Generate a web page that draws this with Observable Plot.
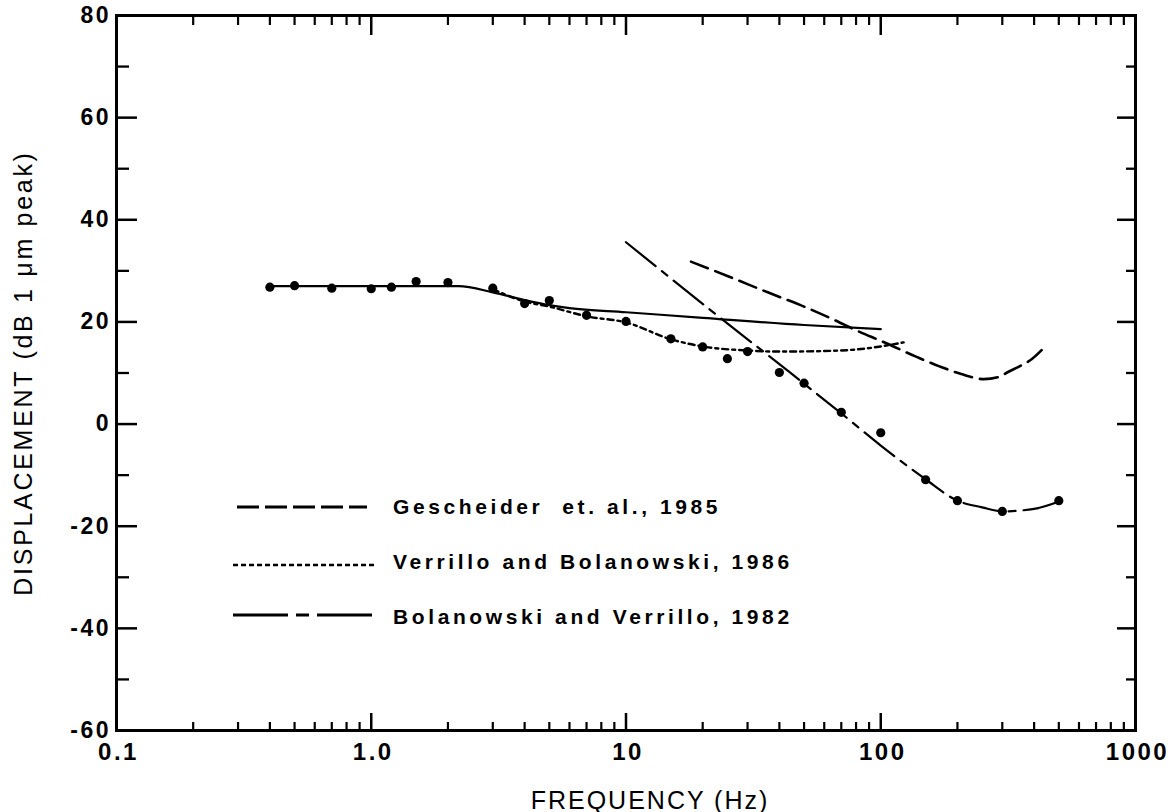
<!DOCTYPE html>
<html>
<head>
<meta charset="utf-8">
<script src="https://cdn.jsdelivr.net/npm/d3@7"></script>
<script src="https://cdn.jsdelivr.net/npm/@observablehq/plot@0.6"></script>
<style>
  html, body { margin: 0; padding: 0; background: #fff; }
  #chart { position: relative; width: 1175px; height: 812px; }
  #chart svg { position: absolute; left: 0; top: 0; }
  .legend text { letter-spacing: 3.6px; white-space: pre; }
</style>
</head>
<body>
<div id="chart"></div>
<script>
// ---- axis ticks ----
const xMajorTicks = [0.1, 1, 10, 100, 1000];
const xTickLabels = ["0.1", "1.0", "10", "100", "1000"];
const yMajorTicks = [-60, -40, -20, 0, 20, 40, 60, 80];
const yTickLabels = ["-60", "-40", "-20", "0", "20", "40", "60", "80"];
const yMinorTicks = [-50, -30, -10, 10, 30, 50, 70];
const yTitle = "DISPLACEMENT (dB 1 μm peak)";
const xTitle = "FREQUENCY (Hz)";

// ---- measured data points (filled circles) ----
const dotFreq = [0.4, 0.5, 0.7, 1.0, 1.2, 1.5, 2.0, 3.0, 4.0, 5.0, 7.0, 10, 15, 20, 25, 30, 40, 50, 70, 100, 150, 200, 300, 500];
const dotDb   = [26.8, 27.1, 26.6, 26.5, 26.8, 27.9, 27.7, 26.6, 23.6, 24.2, 21.3, 20.1, 16.7, 15.1, 12.8, 14.2, 10.1, 8.0, 2.3, -1.7, -10.9, -15.0, -17.1, -15.0];

// ---- Gescheider et al., 1985 (dashed) ----
const gesFreq = [18, 25, 36, 50, 65, 83, 100, 139, 170, 207, 254, 290, 316, 360, 391, 446];
const gesDb   = [31.8, 29.0, 25.8, 23.0, 20.5, 18.0, 16.3, 13.1, 11.3, 9.8, 8.8, 9.2, 10.2, 11.6, 12.7, 15.4];

// ---- Verrillo and Bolanowski, 1986 (dotted) ----
const verFreq = [3.0, 4.0, 5.0, 7.0, 10, 15, 20, 30, 40, 60, 80, 100, 123];
const verDb   = [26.4, 24.0, 23.0, 21.1, 19.9, 16.6, 15.2, 14.4, 14.2, 14.3, 14.6, 15.2, 16.0];

// ---- Bolanowski and Verrillo, 1982: low-frequency channel (solid) ----
const bvLowFreq = [0.4, 1.0, 2.2, 3.0, 4.0, 5.0, 6.0, 10, 20, 50, 100];
const bvLowDb   = [27.0, 27.0, 27.0, 25.8, 24.3, 23.3, 22.7, 21.9, 20.8, 19.4, 18.6];

// ---- Bolanowski and Verrillo, 1982: high-frequency channel (long-short dash) ----
const bvHighFreq = [10, 24, 43.5, 50, 70, 100, 150, 200, 250, 300, 400, 530];
const bvHighDb   = [35.6, 20.4, 10.3, 7.9, 2.1, -4.2, -10.8, -15.0, -16.3, -17.1, -16.6, -14.7];

// ---- legend ----
const legendLabels = ["Gescheider\u00A0 et. al., 1985", "Verrillo and Bolanowski, 1986", "Bolanowski and Verrillo, 1982"];
const legendDashes = ["22,6", "5,3", "55,8,13,8"];

const toRows = (fs, vs) => fs.map((f, i) => ({f, db: vs[i]}));

const W = 1175, H = 812;
const mT = 15, mB = 82, mL = 116, mR = 40;
const plotH = H - mT - mB, plotW = W - mL - mR;

const xMinorTicks = xMajorTicks.slice(0, -1).flatMap(d => d3.range(2, 10).map(k => k * d));
const innerMajorX = xMajorTicks.slice(1, -1);
const innerMajorY = yMajorTicks.slice(1, -1);

const font = "'Liberation Sans', Arial, Helvetica, sans-serif";

const chart = Plot.plot({
  width: W, height: H,
  marginTop: mT, marginBottom: mB, marginLeft: mL, marginRight: mR,
  style: {fontFamily: font, background: "#fff", color: "#000"},
  x: {type: "log", domain: [0.1, 1000], axis: null},
  y: {domain: [-60, 80], axis: null},
  marks: [
    // ticks (inward)
    Plot.ruleX(xMinorTicks, {x: d => d, insetTop: plotH - 8, strokeWidth: 2.2}),
    Plot.ruleX(innerMajorX, {x: d => d, insetTop: plotH - 17, strokeWidth: 2.5}),
    Plot.ruleX(xMinorTicks, {x: d => d, insetBottom: plotH - 10, strokeWidth: 2.2}),
    Plot.ruleX(innerMajorX, {x: d => d, insetBottom: plotH - 20, strokeWidth: 2.5}),
    Plot.ruleY(innerMajorY, {y: d => d, insetRight: plotW - 21, strokeWidth: 2.5}),
    Plot.ruleY(yMinorTicks, {y: d => d, insetRight: plotW - 13, strokeWidth: 2.3}),
    Plot.ruleY(innerMajorY, {y: d => d, insetLeft: plotW - 18, strokeWidth: 2.5}),
    Plot.ruleY(yMinorTicks, {y: d => d, insetLeft: plotW - 9, strokeWidth: 2.3}),
    Plot.frame({strokeWidth: 3}),
    // tick labels
    Plot.text(yMajorTicks, {y: d => d, text: (d, i) => yTickLabels[i], frameAnchor: "left", textAnchor: "end", lineAnchor: "middle", dx: -5.5, fontSize: 23, fontWeight: "bold"}),
    Plot.text(xMajorTicks, {x: d => d, text: (d, i) => xTickLabels[i], frameAnchor: "bottom", textAnchor: "middle", lineAnchor: "bottom", dx: 2, dy: 29, fontSize: 24, fontWeight: "bold"}),
    // axis titles
    Plot.text([yTitle], {frameAnchor: "left", textAnchor: "middle", rotate: -90, dx: -93, dy: 0, fontSize: 25, lineAnchor: "middle"}),
    Plot.text([xTitle], {frameAnchor: "bottom", textAnchor: "middle", dx: 24, dy: 78, lineAnchor: "bottom", fontSize: 25}),
    // curves
    Plot.line(toRows(bvLowFreq, bvLowDb), {x: "f", y: "db", curve: "monotone-x", stroke: "#000", strokeWidth: 2.2}),
    Plot.line(toRows(verFreq, verDb), {x: "f", y: "db", curve: "monotone-x", stroke: "#000", strokeWidth: 2.4, strokeDasharray: "6,4,3,4"}),
    Plot.line(toRows(gesFreq, gesDb), {x: "f", y: "db", curve: "monotone-x", stroke: "#000", strokeWidth: 2.6, strokeDasharray: "18,8"}),
    Plot.line(toRows(bvHighFreq, bvHighDb), {x: "f", y: "db", curve: "monotone-x", stroke: "#000", strokeWidth: 2.2, strokeDasharray: "38,8,7,8"}),
    // data points
    Plot.dot(toRows(dotFreq, dotDb), {x: "f", y: "db", r: 4.6, fill: "#000", stroke: "none"})
  ]
});

// letter spacing for the wide, typewriter-like lettering of the original
d3.select(chart).selectAll("text").each(function () {
  const t = this.textContent;
  let ls = null;
  if (yTickLabels.includes(t)) ls = 2.5;
  else if (xTickLabels.includes(t)) ls = 2.5;
  else if (t === yTitle) ls = 2.7;
  else if (t === xTitle) ls = 2;
  if (ls !== null) this.style.letterSpacing = ls + "px";
});

const host = document.getElementById("chart");
host.appendChild(chart);

// legend overlay (inside the plot frame, lower left)
const legendLineY = [507, 565, 615];
const legendTextY = [514, 569, 624];
const legendX0 = [237, 233, 233], legendX1 = [367, 375, 375];
const lg = d3.create("svg")
  .attr("class", "legend")
  .attr("width", W).attr("height", H)
  .style("pointer-events", "none")
  .style("font-family", font);
legendLabels.forEach((label, i) => {
  lg.append("line")
    .attr("x1", legendX0[i]).attr("x2", legendX1[i])
    .attr("y1", legendLineY[i]).attr("y2", legendLineY[i])
    .attr("stroke", "#000").attr("stroke-width", i === 1 ? 2.6 : 3)
    .attr("stroke-dasharray", legendDashes[i]);
  lg.append("text")
    .attr("x", 393).attr("y", legendTextY[i])
    .attr("font-size", 21).attr("font-weight", "bold")
    .attr("fill", "#000")
    .text(label);
});
host.appendChild(lg.node());
</script>
</body>
</html>
